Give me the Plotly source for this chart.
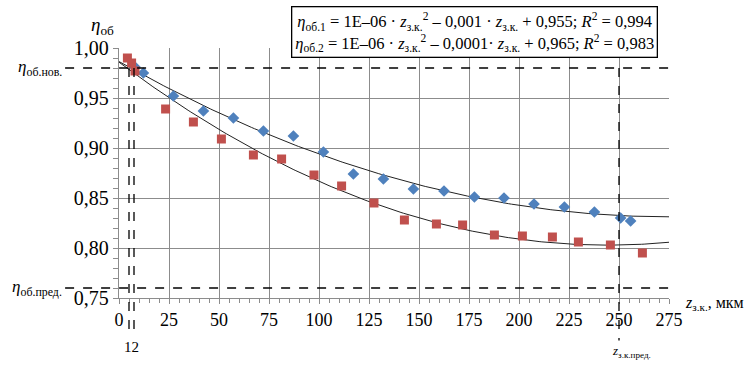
import numpy as np
import plotly.graph_objects as go

# ---- data ----
z1 = [8, 12.2, 27.2, 42.2, 57.2, 72.2, 87.2, 102.2, 117.2, 132.2, 147.2, 162.5,
      177.7, 192.5, 207.5, 222.7, 237.7, 250.8, 255.8]
eta1 = [0.981, 0.975, 0.952, 0.937, 0.930, 0.917, 0.912, 0.896, 0.874, 0.869, 0.859,
        0.857, 0.851, 0.850, 0.844, 0.841, 0.836, 0.830, 0.827]
z2 = [4.2, 6.3, 8.0, 23.3, 37.2, 51.2, 67.2, 81.3, 97.5, 111.3, 127.5, 142.7, 158.7,
      171.8, 187.7, 201.7, 216.7, 229.7, 245.7, 261.7]
eta2 = [0.990, 0.985, 0.977, 0.939, 0.926, 0.909, 0.893, 0.889, 0.873, 0.862, 0.845,
        0.828, 0.824, 0.823, 0.813, 0.812, 0.811, 0.806, 0.803, 0.795]

x_ticks = [0, 25, 50, 75, 100, 125, 150, 175, 200, 225, 250, 275]
x_ticklabels = ["0", "25", "50", "75", "100", "125", "150", "175", "200", "225", "250", "275"]
y_ticks = [0.75, 0.80, 0.85, 0.90, 0.95, 1.00]
y_ticklabels = ["0,75", "0,80", "0,85", "0,90", "0,95", "1,00"]

eta_new = 0.98
eta_lim = 0.76
z_marks = [5, 7.5]
z_lim = 250

XR = [0, 275]
YR = [0.75, 1.00]

def px(v):
    return (v - XR[0]) / (XR[1] - XR[0])

def py(v):
    return (v - YR[0]) / (YR[1] - YR[0])

FONT = "Times New Roman, Liberation Serif, DejaVu Serif, serif"
BLUE = "#4F81BD"
RED = "#C0504D"

fig = go.Figure()

xs = np.linspace(0, 275, 200)
for zz, ee in ((z1, eta1), (z2, eta2)):
    c = np.polyfit(zz, ee, 2)
    fig.add_trace(go.Scatter(x=xs, y=np.polyval(c, xs), mode="lines",
                             line=dict(color="#222222", width=1), hoverinfo="skip",
                             showlegend=False))

fig.add_trace(go.Scatter(x=z1, y=eta1, mode="markers",
                         marker=dict(symbol="diamond", size=9, color=BLUE), showlegend=False))
fig.add_trace(go.Scatter(x=z2, y=eta2, mode="markers",
                         marker=dict(symbol="square", size=9, color=RED), showlegend=False))

dash = dict(color="black", width=1.3, dash="dash")
shapes = []
for v in (eta_new, eta_lim):
    shapes.append(dict(type="line", xref="paper", yref="paper", x0=-0.098, x1=1.007,
                       y0=py(v), y1=py(v), line=dash))
for v in z_marks:
    shapes.append(dict(type="line", xref="paper", yref="paper", x0=px(v), x1=px(v),
                       y0=py(eta_new), y1=-0.14, line=dash))
shapes.append(dict(type="line", xref="paper", yref="paper", x0=px(z_lim), x1=px(z_lim),
                   y0=py(eta_new), y1=-0.17, line=dash))

annotations = [
    dict(xref="paper", yref="paper", x=-0.005, y=1.03, xanchor="right", yanchor="bottom",
         text="<i>η</i><sub>об</sub>", showarrow=False, font=dict(family=FONT, size=19, color="black")),
    dict(xref="paper", yref="paper", x=-0.1, y=py(eta_new), xanchor="right", yanchor="middle",
         text="<i>η</i><sub>об.нов.</sub>", showarrow=False, font=dict(family=FONT, size=17, color="black")),
    dict(xref="paper", yref="paper", x=-0.1, y=py(eta_lim), xanchor="right", yanchor="middle",
         text="<i>η</i><sub>об.пред.</sub>", showarrow=False, font=dict(family=FONT, size=17, color="black")),
    dict(xref="paper", yref="paper", x=1.025, y=-0.02, xanchor="left", yanchor="middle",
         text="<i>z</i><sub>з.к.</sub>, мкм", showarrow=False, font=dict(family=FONT, size=16, color="black")),
    dict(xref="paper", yref="paper", x=px(sum(z_marks) / 2), y=-0.195, xanchor="center", yanchor="middle",
         text="12", showarrow=False, font=dict(family=FONT, size=15, color="black")),
    dict(xref="paper", yref="paper", x=px(z_lim) - 0.016, y=-0.215, xanchor="left", yanchor="middle",
         text="<i>z</i><sub>з.к.пред.</sub>", showarrow=False, font=dict(family=FONT, size=13, color="black")),
    dict(xref="paper", yref="paper", x=0.646, y=1.062, xanchor="center", yanchor="middle",
         text=("<i>η</i><sub>об.1</sub> = 1E–06 · <i>z</i><sub>з.к.</sub><sup>2</sup> – 0,001 · "
               "<i>z</i><sub>з.к.</sub> + 0,955; <i>R</i><sup>2</sup> = 0,994<br>"
               "<i>η</i><sub>об.2</sub> = 1E–06 · <i>z</i><sub>з.к.</sub><sup>2</sup> – 0,0001· "
               "<i>z</i><sub>з.к.</sub> + 0,965; <i>R</i><sup>2</sup> = 0,983"),
         showarrow=False, align="center", bordercolor="black", borderwidth=1.3,
         bgcolor="white", borderpad=3, font=dict(family=FONT, size=16.5, color="black")),
]

fig.update_layout(
    width=753, height=369,
    margin=dict(l=119, r=84, t=48, b=71),
    paper_bgcolor="white", plot_bgcolor="white",
    font=dict(family=FONT),
    shapes=shapes, annotations=annotations,
    xaxis=dict(range=XR, tickvals=x_ticks, ticktext=x_ticklabels,
               showgrid=True, gridcolor="#8c8c8c", gridwidth=1.3, zeroline=False,
               showline=True, linecolor="#8c8c8c", linewidth=1.3,
               ticks="outside", ticklen=5, tickcolor="#8c8c8c",
               minor=dict(dtick=5, ticks="outside", ticklen=4, tickcolor="#8c8c8c", showgrid=False),
               tickfont=dict(family=FONT, size=18, color="black")),
    yaxis=dict(range=YR, tickvals=y_ticks, ticktext=y_ticklabels,
               showgrid=True, gridcolor="#8c8c8c", gridwidth=1.3, zeroline=False,
               showline=True, linecolor="#8c8c8c", linewidth=1.3,
               ticks="outside", ticklen=5, tickcolor="#8c8c8c",
               minor=dict(dtick=0.01, ticks="outside", ticklen=5, tickcolor="#8c8c8c", showgrid=False),
               tickfont=dict(family=FONT, size=20, color="black")),
)

fig.write_html("out.html", config={"displayModeBar": False})
with open("out.html", encoding="utf-8") as f:
    html = f.read()
html = html.replace("<body>", '<body style="margin:0;padding:0;overflow:hidden">', 1)
with open("out.html", "w", encoding="utf-8") as f:
    f.write(html)
